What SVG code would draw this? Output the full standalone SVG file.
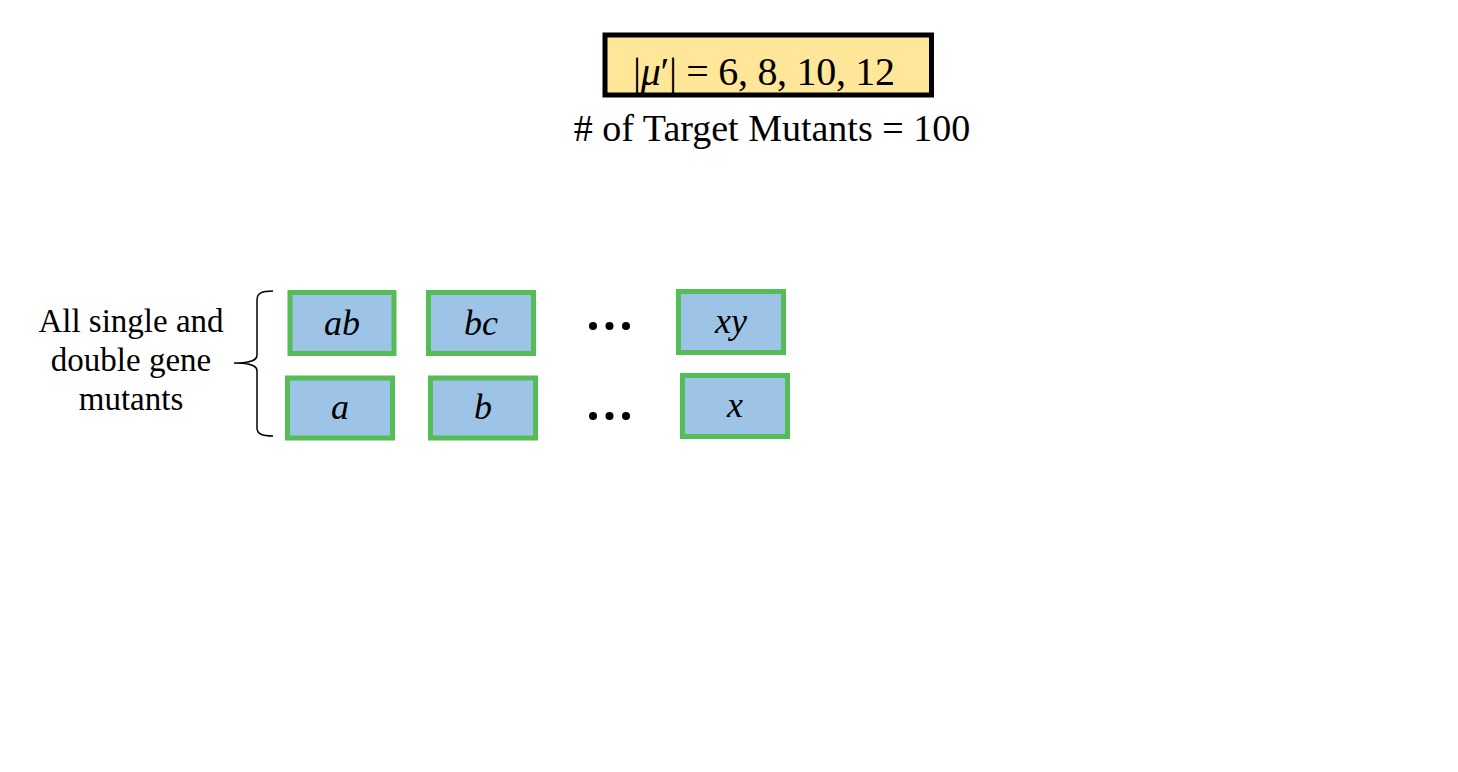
<svg xmlns="http://www.w3.org/2000/svg" width="1458" height="772" viewBox="0 0 1458 772">
<style>
.node{fill:#9DC3E6;stroke:#55BD55;stroke-width:5}
.lbl{font-family:"Liberation Serif","Times New Roman",serif;font-style:italic;font-size:36px;fill:#000;text-anchor:middle}
.txt{font-family:"Liberation Serif","Times New Roman",serif;fill:#000;text-anchor:middle}
.dot{fill:#000}
</style>
<rect width="1458" height="772" fill="#fff"/>
<g id="param">
<rect x="605" y="35" width="326.5" height="60" fill="#FFE699" stroke="#000" stroke-width="5"/>
<text class="txt" x="764" y="85" font-size="40" textLength="262" lengthAdjust="spacing">|<tspan font-style="italic">μ</tspan>′| = 6, 8, 10, 12</text>
</g>
<g id="target">
<text class="txt" x="772" y="141" font-size="38">#  of Target Mutants = 100</text>
</g>
<g id="groupLabel">
<text class="txt" font-size="33"><tspan x="131" y="332">All single and</tspan><tspan x="131" y="371">double gene</tspan><tspan x="131" y="410">mutants</tspan></text>
</g>
<g id="connectors">
<path d="M273,291 C262,291 257,293 257,300 L257,355 C257,360 252,363 234,363 C252,363 257,366 257,371 L257,428 C257,434 262,436 273,436" fill="none" stroke="#000" stroke-width="1.5"/>
</g>
<g id="node-ab"><rect class="node" x="290" y="292.5" width="104" height="61"/><text class="lbl" x="342" y="335">ab</text></g>
<g id="node-bc"><rect class="node" x="428.5" y="292.5" width="105" height="61"/><text class="lbl" x="481" y="335">bc</text></g>
<g id="node-xy"><rect class="node" x="678.5" y="291.5" width="105" height="61"/><text class="lbl" x="731" y="333">xy</text></g>
<g id="node-a"><rect class="node" x="287.5" y="378" width="105" height="60"/><text class="lbl" x="340" y="419">a</text></g>
<g id="node-b"><rect class="node" x="430.5" y="378" width="105" height="60"/><text class="lbl" x="483" y="419">b</text></g>
<g id="node-x"><rect class="node" x="682.5" y="375.5" width="105" height="61"/><text class="lbl" x="735" y="417">x</text></g>
<g id="ellipsis-top"><circle class="dot" cx="593" cy="326" r="4"/><circle class="dot" cx="609.5" cy="326" r="4"/><circle class="dot" cx="626" cy="326" r="4"/></g>
<g id="ellipsis-bottom"><circle class="dot" cx="593" cy="416" r="4"/><circle class="dot" cx="609.5" cy="416" r="4"/><circle class="dot" cx="626" cy="416" r="4"/></g>
</svg>
